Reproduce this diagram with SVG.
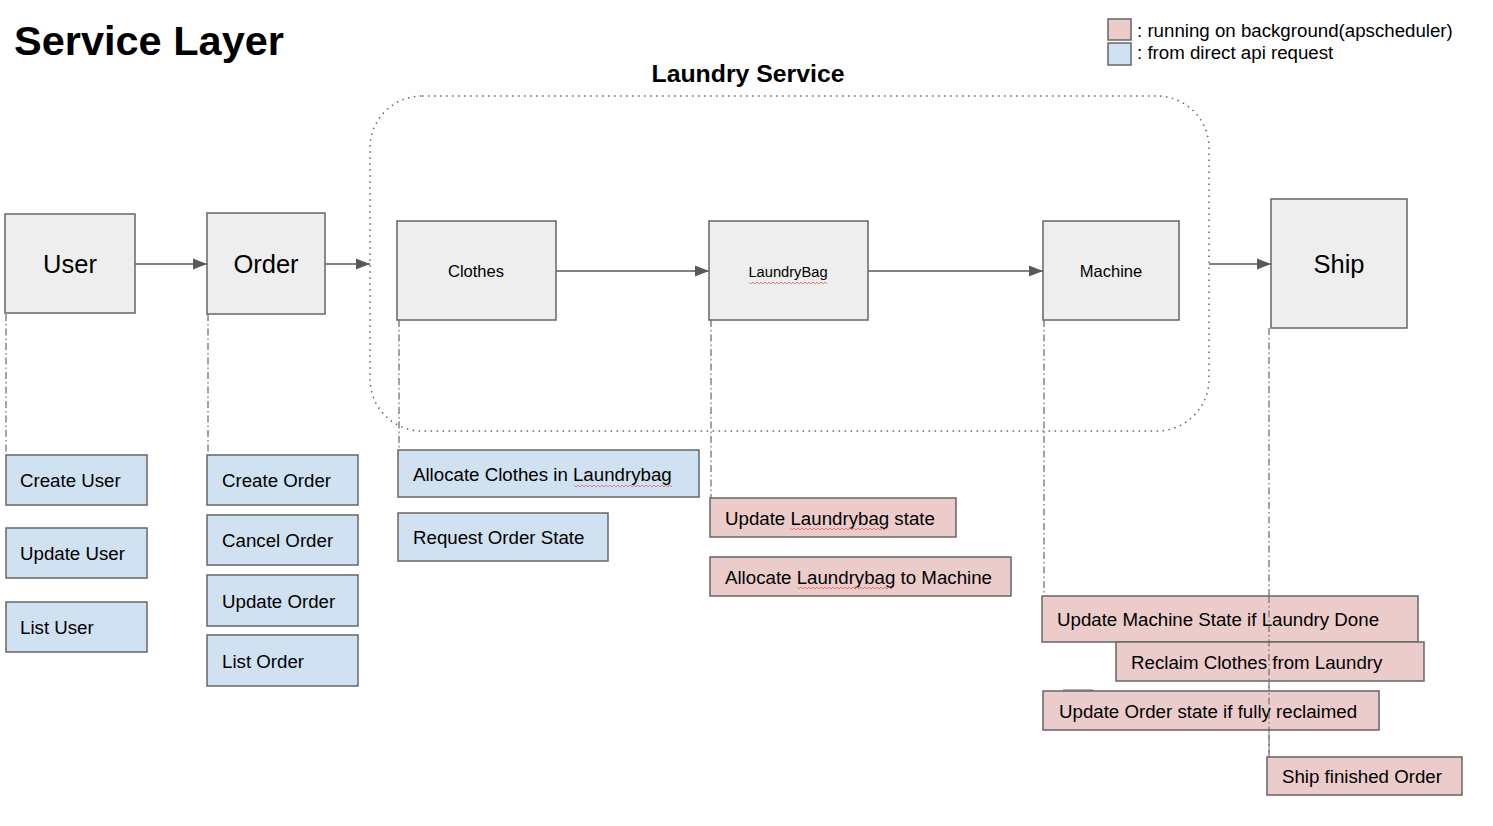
<svg xmlns="http://www.w3.org/2000/svg" width="1493" height="826" viewBox="0 0 1493 826">
<defs>
<style>
text{font-family:"Liberation Sans",Arial,sans-serif;fill:#000}
.main{fill:#eeeeee;stroke:#666;stroke-width:1.5}
.api{fill:#d0e1f2;stroke:#666;stroke-width:1.5}
.bg{fill:#eccbcb;stroke:#666;stroke-width:1.5}
.flow{stroke:#595959;stroke-width:1.5;fill:none;marker-end:url(#ah)}
.life{stroke:#666;stroke-width:1.2;fill:none;stroke-dasharray:7 3 1.5 3}
.lbl{font-size:18.7px}
.big{font-size:25.5px;text-anchor:middle}
.small{font-size:16.5px;text-anchor:middle}
.spell{stroke:#e06666;stroke-width:0.8;fill:none}
</style>
<marker id="ah" viewBox="0 0 14 12" refX="14" refY="6" markerWidth="14" markerHeight="12" markerUnits="userSpaceOnUse" orient="auto">
<path d="M0,0.5 L14,6 L0,11.5 z" fill="#595959"/>
</marker>
</defs>
<rect width="1493" height="826" fill="#fff"/>
<text x="14" y="55" font-size="41.5" font-weight="bold">Service Layer</text>
<g id="legend">
<rect x="1108" y="19" width="23" height="21" class="bg"/>
<rect x="1108" y="43" width="23" height="22" class="api"/>
<text x="1137" y="37" font-size="18.7">: running on background(apscheduler)</text>
<text x="1137" y="59" font-size="18.7">: from direct api request</text>
</g>
<g id="laundry-service">
<rect x="370" y="96" width="839" height="335" rx="52" ry="52" fill="none" stroke="#666" stroke-width="1.5" stroke-dasharray="1.5 4.5"/>
<text x="748" y="82" font-size="24.8" font-weight="bold" text-anchor="middle">Laundry Service</text>
</g>
<g id="connectors">
<path class="flow" d="M135,264 H207"/>
<path class="flow" d="M325,264 H370"/>
<path class="flow" d="M556,271 H709"/>
<path class="flow" d="M868,271 H1043"/>
<path class="flow" d="M1209,264 H1271"/>
<path class="life" d="M6,314 V455"/>
<path class="life" d="M208,314 V455"/>
<path class="life" d="M399,320 V452"/>
<path class="life" d="M711,320 V498"/>
<path class="life" d="M1044,320 V597"/>
<path class="life" d="M1269,328 V757"/>
<path d="M1063,690 H1093 L1096,693" stroke="#666" stroke-width="1" fill="none"/>
</g>
<g id="user"><rect x="5" y="214" width="130" height="99" class="main"/><text x="70" y="273" class="big">User</text></g>
<g id="order"><rect x="207" y="213" width="118" height="101" class="main"/><text x="266" y="273" class="big">Order</text></g>
<g id="clothes"><rect x="397" y="221" width="159" height="99" class="main"/><text x="476" y="277" class="small">Clothes</text></g>
<g id="laundrybag"><rect x="709" y="221" width="159" height="99" class="main"/><text x="788" y="277" font-size="14.7" text-anchor="middle">LaundryBag</text>
<path class="spell" d="M749,282 l2,2 l2,-2 l2,2 l2,-2 l2,2 l2,-2 l2,2 l2,-2 l2,2 l2,-2 l2,2 l2,-2 l2,2 l2,-2 l2,2 l2,-2 l2,2 l2,-2 l2,2 l2,-2 l2,2 l2,-2 l2,2 l2,-2 l2,2 l2,-2 l2,2 l2,-2 l2,2 l2,-2 l2,2 l2,-2 l2,2 l2,-2 l2,2 l2,-2 l2,2 l2,-2 l2,2"/></g>
<g id="machine"><rect x="1043" y="221" width="136" height="99" class="main"/><text x="1111" y="277" class="small">Machine</text></g>
<g id="ship"><rect x="1271" y="199" width="136" height="129" class="main"/><text x="1339" y="273" class="big">Ship</text></g>
<g id="create-user"><rect x="6" y="455" width="141" height="50" class="api"/><text x="20" y="487" class="lbl">Create User</text></g>
<g id="update-user"><rect x="6" y="528" width="141" height="50" class="api"/><text x="20" y="560" class="lbl">Update User</text></g>
<g id="list-user"><rect x="6" y="602" width="141" height="50" class="api"/><text x="20" y="634" class="lbl">List User</text></g>
<g id="create-order"><rect x="207" y="455" width="151" height="50" class="api"/><text x="222" y="487" class="lbl">Create Order</text></g>
<g id="cancel-order"><rect x="207" y="515" width="151" height="50" class="api"/><text x="222" y="547" class="lbl">Cancel Order</text></g>
<g id="update-order"><rect x="207" y="575" width="151" height="51" class="api"/><text x="222" y="608" class="lbl">Update Order</text></g>
<g id="list-order"><rect x="207" y="635" width="151" height="51" class="api"/><text x="222" y="668" class="lbl">List Order</text></g>
<g id="allocate-clothes"><rect x="398" y="450" width="301" height="47" class="api"/><text x="413" y="481" class="lbl">Allocate Clothes in Laundrybag</text>
<path class="spell" d="M574,485 l2,2 l2,-2 l2,2 l2,-2 l2,2 l2,-2 l2,2 l2,-2 l2,2 l2,-2 l2,2 l2,-2 l2,2 l2,-2 l2,2 l2,-2 l2,2 l2,-2 l2,2 l2,-2 l2,2 l2,-2 l2,2 l2,-2 l2,2 l2,-2 l2,2 l2,-2 l2,2 l2,-2 l2,2 l2,-2 l2,2 l2,-2 l2,2 l2,-2 l2,2 l2,-2 l2,2 l2,-2 l2,2 l2,-2 l2,2 l2,-2 l2,2 l2,-2 l2,2 l2,-2 l2,2"/></g>
<g id="request-order-state"><rect x="398" y="513" width="210" height="48" class="api"/><text x="413" y="544" class="lbl">Request Order State</text></g>
<g id="update-laundrybag-state"><rect x="710" y="498" width="246" height="39" class="bg"/><text x="725" y="525" class="lbl">Update Laundrybag state</text>
<path class="spell" d="M790,528 l2,2 l2,-2 l2,2 l2,-2 l2,2 l2,-2 l2,2 l2,-2 l2,2 l2,-2 l2,2 l2,-2 l2,2 l2,-2 l2,2 l2,-2 l2,2 l2,-2 l2,2 l2,-2 l2,2 l2,-2 l2,2 l2,-2 l2,2 l2,-2 l2,2 l2,-2 l2,2 l2,-2 l2,2 l2,-2 l2,2 l2,-2 l2,2 l2,-2 l2,2 l2,-2 l2,2 l2,-2 l2,2 l2,-2 l2,2 l2,-2 l2,2 l2,-2 l2,2 l2,-2"/></g>
<g id="allocate-laundrybag"><rect x="710" y="557" width="301" height="39" class="bg"/><text x="725" y="584" class="lbl">Allocate Laundrybag to Machine</text>
<path class="spell" d="M797,587 l2,2 l2,-2 l2,2 l2,-2 l2,2 l2,-2 l2,2 l2,-2 l2,2 l2,-2 l2,2 l2,-2 l2,2 l2,-2 l2,2 l2,-2 l2,2 l2,-2 l2,2 l2,-2 l2,2 l2,-2 l2,2 l2,-2 l2,2 l2,-2 l2,2 l2,-2 l2,2 l2,-2 l2,2 l2,-2 l2,2 l2,-2 l2,2 l2,-2 l2,2 l2,-2 l2,2 l2,-2 l2,2 l2,-2 l2,2 l2,-2 l2,2 l2,-2 l2,2 l2,-2"/></g>
<g id="update-machine-state"><rect x="1042" y="596" width="376" height="46" class="bg"/><text x="1057" y="626" class="lbl">Update Machine State if Laundry Done</text></g>
<g id="reclaim-clothes"><rect x="1116" y="642" width="308" height="39" class="bg"/><text x="1131" y="669" class="lbl">Reclaim Clothes from Laundry</text></g>
<g id="update-order-state"><rect x="1043" y="691" width="336" height="39" class="bg"/><text x="1059" y="718" class="lbl">Update Order state if fully reclaimed</text></g>
<g id="ship-finished-order"><rect x="1267" y="757" width="195" height="38" class="bg"/><text x="1282" y="783" class="lbl">Ship finished Order</text></g>
<path class="life" d="M1269,596 V757" opacity="0.9"/>
</svg>
